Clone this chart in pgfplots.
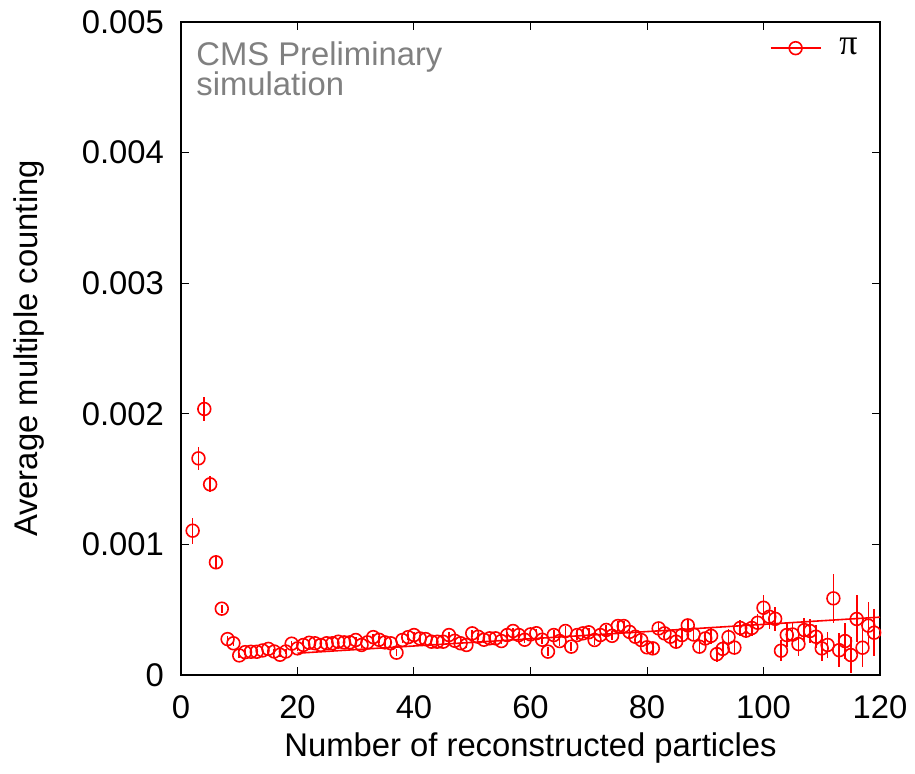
\documentclass[border=0pt]{standalone}
\usepackage{fontspec}
\setmainfont{Liberation Sans}
\newfontfamily\greekserif{Liberation Serif}
\usepackage{pgfplots}
\usepackage{pgfplotstable}
\pgfplotsset{compat=1.18}
\definecolor{cmsgray}{RGB}{128,128,128}
\pgfplotstableread{
x y e
2 1.105e-3 0.10e-3
3 1.659e-3 0.09e-3
4 2.037e-3 0.09e-3
5 1.460e-3 0.06e-3
6 0.863e-3 0.04e-3
7 0.508e-3 0.03e-3
8 0.275e-3 0.02e-3
9 0.243e-3 0.02e-3
10 0.150e-3 0.02e-3
11 0.175e-3 0.02e-3
12 0.178e-3 0.02e-3
13 0.178e-3 0.02e-3
14 0.188e-3 0.02e-3
15 0.200e-3 0.02e-3
16 0.180e-3 0.02e-3
17 0.155e-3 0.02e-3
18 0.180e-3 0.02e-3
19 0.240e-3 0.02e-3
20 0.204e-3 0.02e-3
21 0.230e-3 0.02e-3
22 0.247e-3 0.02e-3
23 0.243e-3 0.02e-3
24 0.230e-3 0.02e-3
25 0.243e-3 0.02e-3
26 0.243e-3 0.02e-3
27 0.255e-3 0.02e-3
28 0.250e-3 0.02e-3
29 0.250e-3 0.02e-3
30 0.268e-3 0.02e-3
31 0.230e-3 0.025e-3
32 0.250e-3 0.025e-3
33 0.290e-3 0.025e-3
34 0.270e-3 0.025e-3
35 0.250e-3 0.025e-3
36 0.243e-3 0.025e-3
37 0.171e-3 0.025e-3
38 0.268e-3 0.025e-3
39 0.290e-3 0.025e-3
40 0.306e-3 0.025e-3
41 0.280e-3 0.025e-3
42 0.275e-3 0.025e-3
43 0.255e-3 0.025e-3
44 0.255e-3 0.025e-3
45 0.255e-3 0.025e-3
46 0.306e-3 0.025e-3
47 0.262e-3 0.025e-3
48 0.243e-3 0.025e-3
49 0.230e-3 0.025e-3
50 0.319e-3 0.025e-3
51 0.293e-3 0.025e-3
52 0.270e-3 0.025e-3
53 0.281e-3 0.025e-3
54 0.281e-3 0.025e-3
55 0.260e-3 0.025e-3
56 0.306e-3 0.025e-3
57 0.337e-3 0.025e-3
58 0.306e-3 0.025e-3
59 0.270e-3 0.025e-3
60 0.311e-3 0.025e-3
61 0.320e-3 0.035e-3
62 0.270e-3 0.035e-3
63 0.179e-3 0.035e-3
64 0.306e-3 0.035e-3
65 0.260e-3 0.035e-3
66 0.337e-3 0.035e-3
67 0.217e-3 0.035e-3
68 0.306e-3 0.035e-3
69 0.319e-3 0.035e-3
70 0.327e-3 0.035e-3
71 0.268e-3 0.035e-3
72 0.306e-3 0.035e-3
73 0.345e-3 0.035e-3
74 0.300e-3 0.035e-3
75 0.375e-3 0.035e-3
76 0.375e-3 0.035e-3
77 0.330e-3 0.035e-3
78 0.293e-3 0.035e-3
79 0.268e-3 0.035e-3
80 0.212e-3 0.035e-3
81 0.204e-3 0.045e-3
82 0.357e-3 0.045e-3
83 0.319e-3 0.045e-3
84 0.293e-3 0.045e-3
85 0.255e-3 0.045e-3
86 0.306e-3 0.045e-3
87 0.380e-3 0.05e-3
88 0.310e-3 0.045e-3
89 0.217e-3 0.045e-3
90 0.280e-3 0.045e-3
91 0.300e-3 0.06e-3
92 0.160e-3 0.06e-3
93 0.200e-3 0.06e-3
94 0.290e-3 0.06e-3
95 0.210e-3 0.06e-3
96 0.360e-3 0.06e-3
97 0.340e-3 0.06e-3
98 0.360e-3 0.06e-3
99 0.400e-3 0.07e-3
100 0.515e-3 0.10e-3
101 0.446e-3 0.09e-3
102 0.430e-3 0.09e-3
103 0.186e-3 0.08e-3
104 0.306e-3 0.09e-3
105 0.310e-3 0.09e-3
106 0.237e-3 0.09e-3
107 0.344e-3 0.09e-3
108 0.337e-3 0.09e-3
109 0.293e-3 0.09e-3
110 0.204e-3 0.10e-3
111 0.230e-3 0.10e-3
112 0.587e-3 0.19e-3
113 0.190e-3 0.13e-3
114 0.260e-3 0.14e-3
115 0.153e-3 0.14e-3
116 0.429e-3 0.18e-3
117 0.209e-3 0.15e-3
118 0.378e-3 0.18e-3
119 0.324e-3 0.18e-3
}\datatable
\begin{document}
\begin{tikzpicture}[font=\fontsize{16.4}{19.5}\selectfont]
\begin{axis}[
  scale only axis,
  width=349.5pt, height=326.5pt,
  xmin=0, xmax=120, ymin=0, ymax=0.005,
  xtick={0,20,40,60,80,100,120},
  ytick={0,0.001,0.002,0.003,0.004,0.005},
  yticklabels={0,0.001,0.002,0.003,0.004,0.005},
  scaled y ticks=false,
  /pgf/number format/assume math mode=true,
  yticklabel style={xshift=-5pt},
  xticklabel style={yshift=-7pt},
  tick align=inside,
  major tick length=4pt,
  tick style={black, line width=0.5pt},
  axis line style={black, line width=1pt},
  xlabel={Number of reconstructed particles},
  ylabel={Average multiple counting},
  ylabel style={yshift=12pt},
  legend style={at={(rel axis cs:1,1)}, anchor=north east, draw=none, fill=none,
    xshift=-6pt, yshift=-4pt},
  legend cell align=left,
  legend image code/.code={\draw[mark repeat=2,mark phase=2] plot coordinates {(0pt,0pt) (12.5pt,0pt) (25pt,0pt)};},
]
\addplot[red, only marks, mark=o, mark size=3.2pt, mark options={line width=0.8pt}, forget plot,
  error bars/.cd, y dir=both, y explicit, error mark=none,
  error bar style={red, line width=0.8pt}]
  table[x=x, y=y, y error=e] {\datatable};
\addplot[red, line width=0.8pt, no marks, forget plot] coordinates {(20,0.000167) (120,0.000443)};
\addlegendimage{red, line width=0.8pt, mark=o, mark size=3.2pt}
\addlegendentry{\hspace{7pt}{\greekserif\fontsize{18}{20}\selectfont π}}
\node[anchor=base west, text=cmsgray, inner sep=0pt] at ([xshift=7.5pt, yshift=-21.5pt]rel axis cs:0,1) {CMS Preliminary};
\node[anchor=base west, text=cmsgray, inner sep=0pt] at ([xshift=7.5pt, yshift=-36.5pt]rel axis cs:0,1) {simulation};
\end{axis}
\path[use as bounding box] (-90.5pt,-49pt) rectangle (367pt,337.5pt);
\end{tikzpicture}
\end{document}
